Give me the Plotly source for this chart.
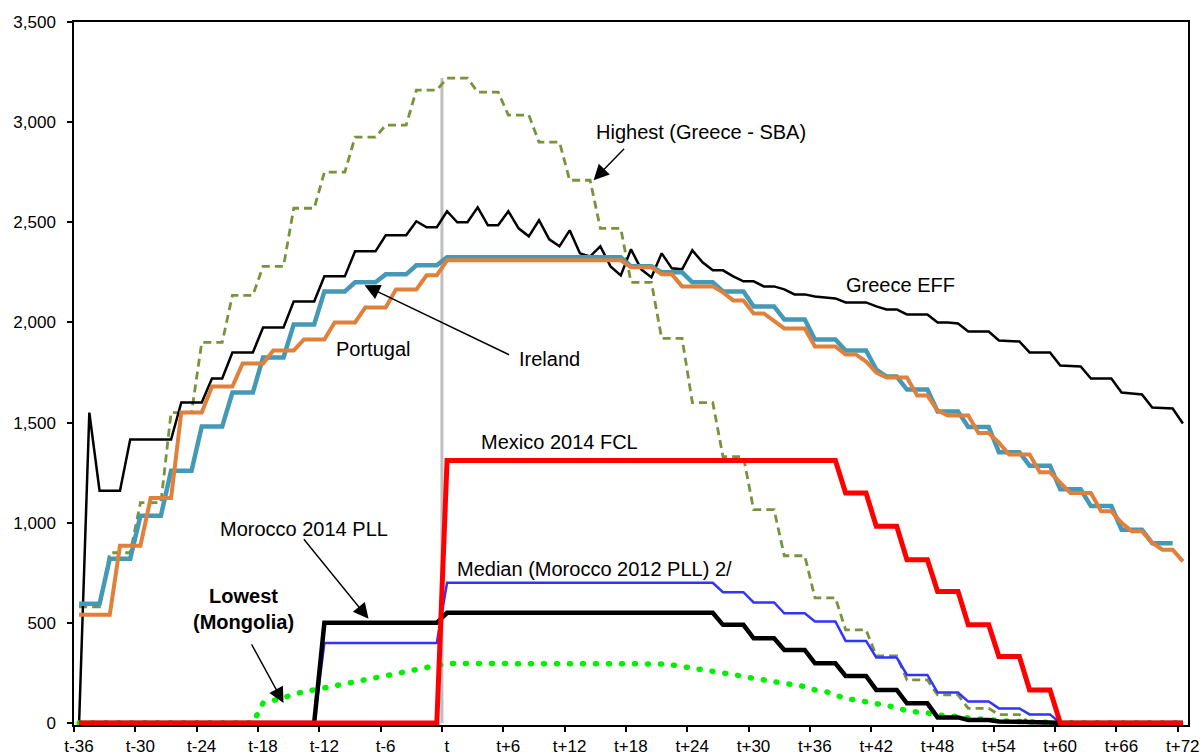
import plotly.graph_objects as go

# Months relative to programme approval (t), one value per month
months = list(range(-36, 73))

tick_months = [-36, -30, -24, -18, -12, -6, 0, 6, 12, 18, 24, 30, 36, 42, 48, 54, 60, 66, 72]
tick_labels = ["t-36", "t-30", "t-24", "t-18", "t-12", "t-6", "t", "t+6", "t+12", "t+18",
               "t+24", "t+30", "t+36", "t+42", "t+48", "t+54", "t+60", "t+66", "t+72"]
y_ticks = [0, 500, 1000, 1500, 2000, 2500, 3000, 3500]

# Greece EFF
greece_eff = [
    0, 1550, 1160, 1160, 1160, 1415, 1415, 1415, 1415, 1415, 1600, 1600,
    1600, 1720, 1720, 1850, 1850, 1850, 1975, 1975, 1975, 2105, 2105, 2105,
    2230, 2230, 2230, 2355, 2355, 2355, 2435, 2435, 2435, 2505, 2475, 2475,
    2555, 2500, 2500, 2575, 2485, 2485, 2555, 2470, 2430, 2510, 2415, 2380,
    2460, 2345, 2330, 2380, 2280, 2235, 2365, 2265, 2225, 2345, 2270, 2265,
    2360, 2300, 2260, 2260, 2230, 2205, 2205, 2180, 2180, 2165, 2140, 2140,
    2130, 2125, 2120, 2100, 2100, 2100, 2080, 2065, 2065, 2040, 2040, 2040,
    2000, 2000, 1995, 1955, 1955, 1955, 1910, 1908, 1905, 1850, 1850, 1850,
    1785, 1782, 1780, 1720, 1720, 1720, 1650, 1645, 1640, 1575, 1572, 1570,
    1495,
]

# Highest (Greece - SBA)
greece_sba = [
    580, 580, 580, 850, 850, 850, 1100, 1100, 1100, 1550, 1550, 1550,
    1900, 1900, 1900, 2135, 2135, 2135, 2280, 2280, 2280, 2570, 2570, 2570,
    2750, 2750, 2750, 2925, 2925, 2925, 2985, 2985, 2985, 3160, 3160, 3160,
    3220, 3220, 3220, 3150, 3150, 3150, 3035, 3035, 3035, 2900, 2900, 2900,
    2710, 2710, 2710, 2470, 2470, 2470, 2200, 2200, 2200, 1920, 1920, 1920,
    1600, 1600, 1600, 1330, 1330, 1330, 1065, 1065, 1065, 835, 835, 835,
    625, 625, 625, 465, 465, 465, 335, 335, 335, 215, 215, 215,
    140, 140, 140, 73, 73, 73, 42, 42, 42, 0, 0, 0,
    0, 0, 0, 0, 0, 0, 0, 0, 0, 0, 0, 0,
    0,
]

# Ireland
ireland = [
    595, 595, 595, 820, 820, 820, 1035, 1035, 1035, 1260, 1260, 1260,
    1480, 1480, 1480, 1650, 1650, 1650, 1825, 1825, 1825, 1990, 1990, 1990,
    2155, 2155, 2155, 2200, 2200, 2200, 2240, 2240, 2240, 2285, 2285, 2285,
    2325, 2325, 2325, 2325, 2325, 2325, 2325, 2325, 2325, 2325, 2325, 2325,
    2325, 2325, 2325, 2325, 2325, 2325, 2280, 2280, 2280, 2250, 2250, 2250,
    2200, 2200, 2200, 2155, 2155, 2155, 2080, 2080, 2080, 2015, 2015, 2015,
    1915, 1915, 1915, 1860, 1860, 1860, 1765, 1730, 1730, 1665, 1665, 1665,
    1555, 1555, 1555, 1478, 1478, 1478, 1352, 1352, 1352, 1285, 1285, 1285,
    1167, 1167, 1167, 1083, 1083, 1083, 965, 965, 965, 898, 898, 898,
    None,
]

# Portugal
portugal = [
    540, 540, 540, 540, 885, 885, 885, 1123, 1123, 1123, 1550, 1550,
    1550, 1680, 1680, 1680, 1795, 1795, 1795, 1860, 1860, 1860, 1915, 1915,
    1915, 2000, 2000, 2000, 2075, 2075, 2075, 2165, 2165, 2165, 2235, 2235,
    2310, 2310, 2310, 2310, 2310, 2310, 2310, 2310, 2310, 2310, 2310, 2310,
    2310, 2310, 2310, 2310, 2310, 2310, 2275, 2275, 2275, 2240, 2240, 2180,
    2180, 2180, 2180, 2150, 2110, 2110, 2045, 2045, 2010, 1970, 1970, 1970,
    1880, 1880, 1880, 1840, 1840, 1805, 1750, 1725, 1725, 1725, 1635, 1635,
    1560, 1535, 1535, 1535, 1448, 1448, 1400, 1340, 1340, 1340, 1252, 1252,
    1200, 1148, 1148, 1148, 1057, 1057, 1000, 957, 957, 900, 865, 865,
    807,
]

# Mexico 2014 FCL
mexico_fcl = (
    [0] * 36
    + [1310, 1310, 1310, 1310, 1310, 1310, 1310, 1310, 1310, 1310, 1310, 1310,
       1310, 1310, 1310, 1310, 1310, 1310, 1310, 1310, 1310, 1310, 1310, 1310,
       1310, 1310, 1310, 1310, 1310, 1310, 1310, 1310, 1310, 1310, 1310, 1310,
       1310, 1310, 1310, 1148, 1148, 1148, 982, 982, 982, 815, 815, 815,
       657, 657, 657, 490, 490, 490, 332, 332, 332, 165, 165, 165,
       0, 0, 0, 0, 0, 0, 0, 0, 0, 0, 0, 0, 0]
)

# Morocco 2014 PLL
morocco_2014 = (
    [0] * 24
    + [500, 500, 500, 500, 500, 500, 500, 500, 500, 500, 500, 500]
    + [550, 550, 550, 550, 550, 550, 550, 550, 550, 550, 550, 550,
       550, 550, 550, 550, 550, 550, 550, 550, 550, 550, 550, 550,
       550, 550, 550, 490, 490, 490, 423, 423, 423, 365, 365, 365,
       298, 298, 298, 235, 235, 235, 165, 165, 165, 98, 98, 98,
       28, 28, 28, 15, 15, 15, 8, 8, 8, 3, 3, 3,
       0, 0, 0, 0, 0, 0, 0, 0, 0, 0, 0, 0, 0]
)

# Median (Morocco 2012 PLL)
median_morocco_2012 = (
    [0] * 24
    + [400, 400, 400, 400, 400, 400, 400, 400, 400, 400, 400, 400]
    + [700, 700, 700, 700, 700, 700, 700, 700, 700, 700, 700, 700,
       700, 700, 700, 700, 700, 700, 700, 700, 700, 700, 700, 700,
       700, 700, 700, 653, 653, 653, 602, 602, 602, 548, 548, 548,
       507, 507, 507, 410, 410, 410, 327, 327, 327, 240, 240, 240,
       152, 152, 152, 107, 107, 107, 73, 73, 73, 43, 43, 43,
       0, 0, 0, 0, 0, 0, 0, 0, 0, 0, 0, 0, 0]
)

# Lowest (Mongolia)
mongolia = (
    [0] * 18
    + [100, 110, 125, 145, 155, 160, 175, 180, 195, 205, 215, 225,
       235, 240, 250, 265, 275, 285]
    + [297, 297, 297, 297, 297, 297, 297, 297, 297, 297, 297, 297,
       297, 297, 297, 297, 297, 297, 297, 297, 297, 295, 290, 283,
       275, 268, 258, 250, 242, 232, 225, 218, 208, 198, 190, 182,
       165, 158, 140, 122, 115, 105, 92, 85, 78, 60, 57, 50,
       40, 38, 32, 25, 20, 16, 12, 9, 7, 5, 3, 2,
       0, 0, 0, 0, 0, 0, 0, 0, 0, 0, 0, 0, 0]
)

FONT = "Arial, Liberation Sans, sans-serif"

fig = go.Figure()

# vertical marker between t-1 and t, up to the highest peak
fig.add_trace(go.Scatter(x=[-0.5, -0.5], y=[0, max(greece_sba)], mode="lines",
                         line=dict(color="#BFBFBF", width=3), hoverinfo="skip"))

series = [
    ("Highest (Greece - SBA)", greece_sba, dict(color="#77933C", width=2.8, dash="8px,5px")),
    ("Greece EFF", greece_eff, dict(color="#000000", width=2.5)),
    ("Ireland", ireland, dict(color="#4499B6", width=4.5)),
    ("Portugal", portugal, dict(color="#E0803A", width=4)),
    ("Lowest (Mongolia)", mongolia, dict(color="#00F000", width=5.5, dash="1px,12px")),
    ("Median (Morocco 2012 PLL)", median_morocco_2012, dict(color="#3333FF", width=2.5)),
    ("Morocco 2014 PLL", morocco_2014, dict(color="#000000", width=4.5)),
    ("Mexico 2014 FCL", mexico_fcl, dict(color="#FF0000", width=5)),
]
for name, values, line in series:
    fig.add_trace(go.Scatter(x=months, y=values, name=name, mode="lines", line=line,
                             connectgaps=False))

text_labels = [
    ("Highest (Greece - SBA)", 14.34, 2950, "left", False),
    ("Greece EFF", 38.8, 2185, "left", False),
    ("Ireland", 6.8, 1815, "left", False),
    ("Portugal", -11.1, 1865, "left", False),
    ("Mexico 2014 FCL", 3.1, 1405, "left", False),
    ("Median (Morocco 2012 PLL) 2/", 0.75, 770, "left", False),
    ("Morocco 2014 PLL", -22.45, 970, "left", False),
    ("Lowest<br>(Mongolia)", -19.9, 570, "center", True),
]
for text, x, y, anchor, bold in text_labels:
    fig.add_annotation(x=x, y=y, xref="x", yref="y", text=f"<b>{text}</b>" if bold else text,
                       showarrow=False, xanchor=anchor, yanchor="middle", align="center",
                       font=dict(family=FONT, size=20, color="black"))

# pointer arrows: (head x, head y, tail x, tail y)
arrows = [
    (14.34, 2710, 17.47, 2875),
    (-8.07, 2185, 6.22, 1835),
    (-7.68, 520, -14.13, 925),
    (-16.0, 100, -19.2, 400),
]
for hx, hy, tx, ty in arrows:
    fig.add_annotation(x=hx, y=hy, ax=tx, ay=ty, xref="x", yref="y", axref="x", ayref="y",
                       text="", showarrow=True, arrowhead=2, arrowsize=2.2,
                       arrowwidth=1.4, arrowcolor="black", standoff=0)

fig.update_layout(
    width=1203, height=755,
    margin=dict(l=74, r=15, t=22, b=30, autoexpand=False),
    paper_bgcolor="white", plot_bgcolor="white",
    showlegend=False,
    font=dict(family=FONT, size=17, color="black"),
)
fig.update_xaxes(
    range=[-36.5, 72.5],
    tickmode="array",
    tickvals=[m - 0.5 for m in tick_months],
    ticktext=tick_labels,
    ticklabelshift=5,
    ticks="outside", ticklen=5, tickwidth=1.5, tickcolor="black",
    showline=True, linecolor="black", linewidth=1.5, mirror=True,
    showgrid=False, zeroline=False, layer="below traces", automargin=False,
)
fig.update_yaxes(
    range=[-10, 3500],
    tickmode="array", tickvals=y_ticks, tickformat=",",
    ticks="outside", ticklen=5, tickwidth=1.5, tickcolor="black",
    ticklabelstandoff=8,
    showline=True, linecolor="black", linewidth=1.5, mirror=True,
    showgrid=False, zeroline=False, layer="below traces", automargin=False,
)

# round line caps turn the sparse dash pattern of the Mongolia series into dots
round_dots = """
var gd = document.getElementById('{plot_id}');
function roundDots() {
  var traces = gd.querySelectorAll('.scatterlayer .trace');
  if (traces.length > 5) {
    traces[5].querySelectorAll('path.js-line').forEach(function (p) {
      p.style.strokeLinecap = 'round';
    });
  }
}
roundDots();
gd.on('plotly_afterplot', roundDots);
"""

fig.write_html("out.html", post_script=round_dots)
